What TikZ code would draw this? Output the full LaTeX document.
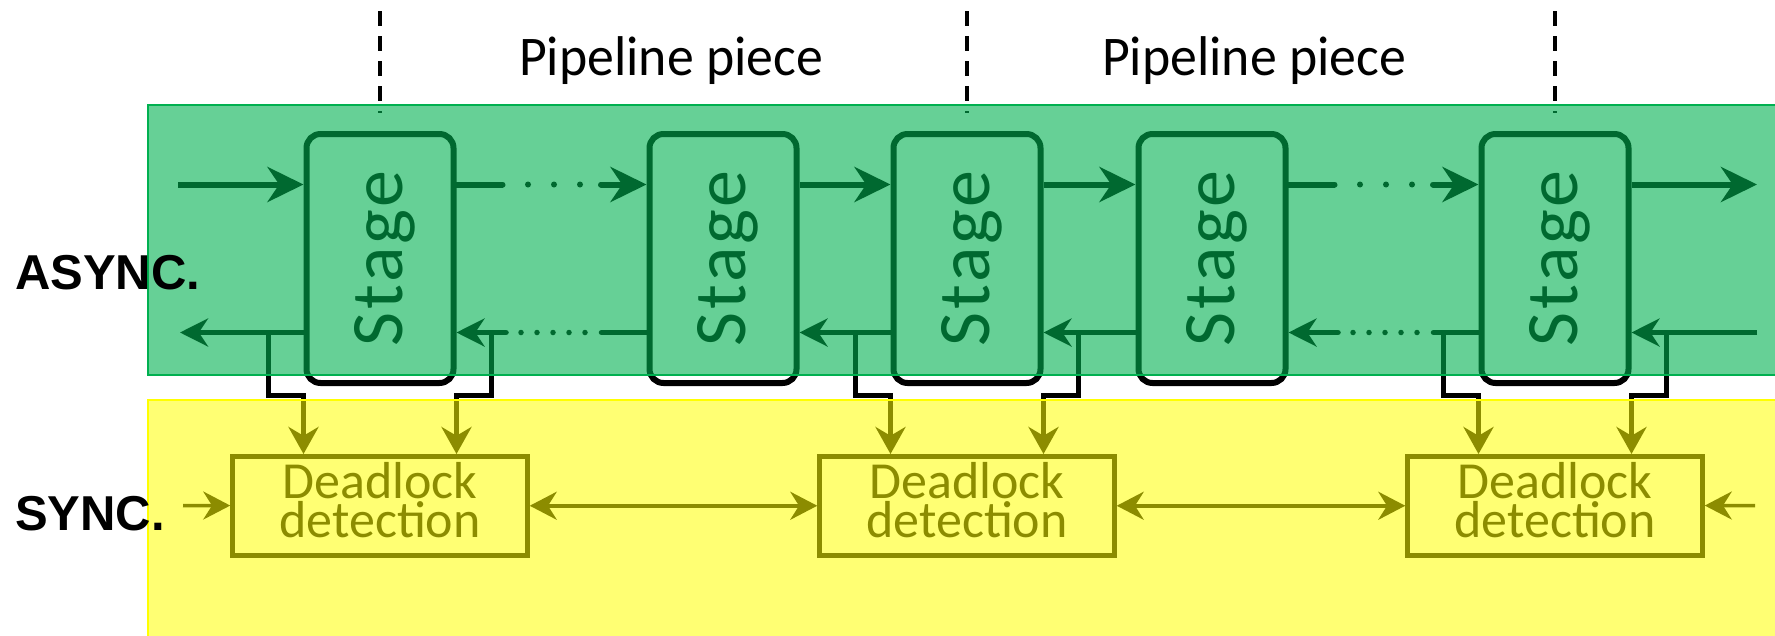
\documentclass[tikz,border=0pt]{standalone}
\usepackage{fontspec}
\usepackage{graphicx}
\setmainfont{Carlito}
\newfontfamily\stagefont[LetterSpace=4]{Carlito}
\newfontfamily\piecefont[FakeStretch=0.96]{Carlito}
\newfontfamily\modefont{Liberation Sans}
\usepackage{xcolor}
\usepackage{tikz}
\usetikzlibrary{arrows.meta,positioning,calc}
\definecolor{asyncgreen}{RGB}{0,176,80}
\definecolor{syncyellow}{RGB}{255,255,0}
\newcommand{\stagetext}{\rotatebox{90}{\raisebox{-5pt}[\height][\depth]{Stage}}}

\begin{document}
\begin{tikzpicture}[x=1pt,y=-1pt,
  stagebox/.style={draw,line width=6pt,rounded corners=14pt,minimum width=147pt,minimum height=249pt,
    inner sep=0pt,font=\stagefont\fontsize{74}{74}\selectfont},
  dlbox/.style={draw,line width=4.5pt,minimum width=295pt,minimum height=99pt,inner sep=0pt,
    align=center,text depth=12pt,font=\fontsize{52}{39}\selectfont},
  fwd/.style={line width=6pt,>={Stealth[length=36pt,width=35pt]},->},
  bwd/.style={line width=5.5pt,>={Stealth[length=28pt,width=28pt]},->},
  gapfwd/.style={fwd,line cap=round,dash pattern=on 46pt off 25.5pt on 0pt off 26pt on 0pt off 26pt on 0pt off 21pt on 300pt},
  gapbwd/.style={bwd,line cap=round,dash pattern=on 45pt off 16.5pt on 0pt off 16pt on 0pt off 16pt on 0pt off 16pt on 0pt off 16pt on 0pt off 15pt on 300pt},
  drop/.style={line width=4.5pt,>={Stealth[length=27pt,width=30pt]},->},
  sync/.style={line width=3.5pt,>={Stealth[length=27pt,width=28pt]}},
  sep/.style={line width=3.5pt,dash pattern=on 15pt off 10pt},
  piece/.style={font=\piecefont\fontsize{56}{56}\selectfont,anchor=base,inner sep=0pt},
  mode/.style={font=\modefont\bfseries\fontsize{49}{49}\selectfont,anchor=base west,inner sep=0pt}]
\useasboundingbox (0,0) rectangle (1775,635);
% stages of the async pipeline
\node[stagebox] (s1) at (380,258.5) {\stagetext};
\node[stagebox,right=190pt of s1] (s2) {\stagetext};
\node[stagebox,right=91pt of s2] (s3) {\stagetext};
\node[stagebox,right=92pt of s3] (s4) {\stagetext};
\node[stagebox,right=190pt of s4] (s5) {\stagetext};
% sync detectors
\node[dlbox,below=68pt of s1] (d1) {Deadlock\\detection};
\node[dlbox,below=68pt of s3] (d2) {Deadlock\\detection};
\node[dlbox,below=68pt of s5] (d3) {Deadlock\\detection};
\coordinate (ain) at (178,184.5);
\coordinate (aout) at (1757,184.5);
\coordinate (bin) at (1757,332.5);
\coordinate (bout) at (180,332.5);
\coordinate (din) at (183,505.5);
\coordinate (dout) at (1755,505.5);
% forward and backward channels
\draw[fwd] (ain) -- ($(s1.west)+(0,-74)$);
\draw[gapfwd] ($(s1.east)+(0,-74)$) -- ($(s2.west)+(0,-74)$);
\draw[fwd] ($(s2.east)+(0,-74)$) -- ($(s3.west)+(0,-74)$);
\draw[fwd] ($(s3.east)+(0,-74)$) -- ($(s4.west)+(0,-74)$);
\draw[gapfwd] ($(s4.east)+(0,-74)$) -- ($(s5.west)+(0,-74)$);
\draw[fwd] ($(s5.east)+(0,-74)$) -- (aout);
\draw[bwd] (bin) -- ($(s5.east)+(0,74)$);
\draw[gapbwd] ($(s5.west)+(0,74)$) -- ($(s4.east)+(0,74)$);
\draw[bwd] ($(s4.west)+(0,74)$) -- ($(s3.east)+(0,74)$);
\draw[bwd] ($(s3.west)+(0,74)$) -- ($(s2.east)+(0,74)$);
\draw[gapbwd] ($(s2.west)+(0,74)$) -- ($(s1.east)+(0,74)$);
\draw[bwd] ($(s1.west)+(0,74)$) -- (bout);
% taps into the detectors
\foreach \s/\d in {1/1,3/2,5/3}{
  \draw[drop] ($(s\s.west)+(-35,74)$) |- ($(s\s.west)+(0,137)$) -- (s\s.west |- d\d.north);
  \draw[drop] ($(s\s.east)+(35,74)$) |- ($(s\s.east)+(0,137)$) -- (s\s.east |- d\d.north);
  \draw[sep] ($(s\s.north)+(0,-120)$) -- ($(s\s.north)+(0,-18)$);
}
\draw[sync,->] (din) -- (d1);
\draw[sync,<->] (d1) -- (d2);
\draw[sync,<->] (d2) -- (d3);
\draw[sync,<-] (d3) -- (dout);
% the two bands
\fill[asyncgreen,opacity=0.6] (148,105) rectangle (1780,375);
\draw[asyncgreen,line width=2.5pt] (148,105) rectangle (1780,375);
\fill[syncyellow,opacity=0.55] (148,400) rectangle (1780,640);
\draw[syncyellow,line width=2.5pt] (148,400) rectangle (1780,640);
\node[piece] (p1) at (671,75) {Pipeline piece};
\node[piece] (p2) at (1254,75) {Pipeline piece};
\node[mode] (lasync) at (15,289) {ASYNC.};
\node[mode] (lsync) at (15,530) {SYNC.};
\end{tikzpicture}
\end{document}
